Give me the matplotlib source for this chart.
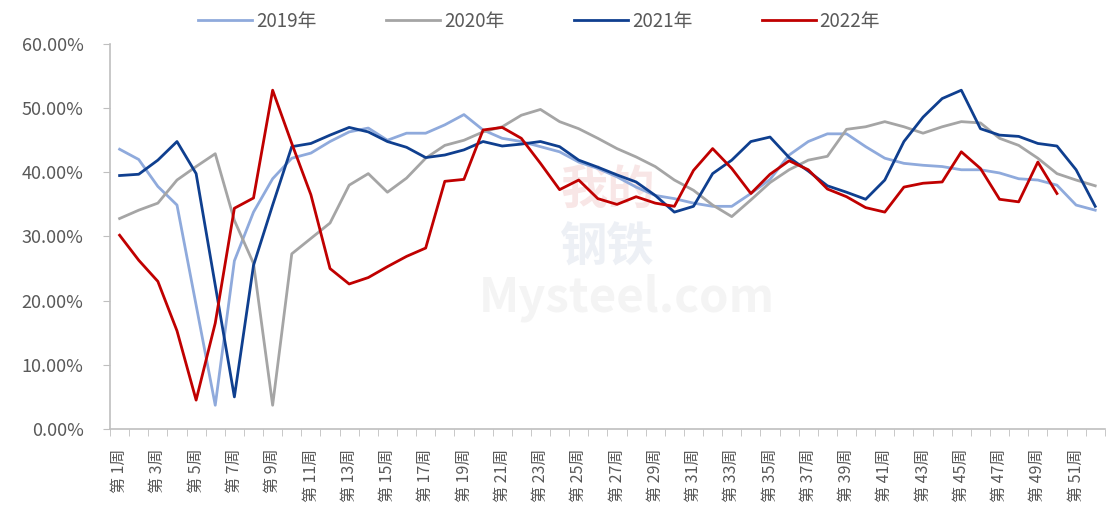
import matplotlib
matplotlib.use("Agg")
from matplotlib import pyplot as plt
from matplotlib.ticker import FuncFormatter, FixedLocator
import numpy as np

plt.rcParams['font.family'] = ['Noto Sans CJK SC', 'DejaVu Sans']

# weeks 1..52
weeks = list(range(1, 53))
tick_labels = ["第 %d周" % w for w in weeks[::2]]

y2019 = [43.6, 42.0, 37.8, 34.9, 19.3, 3.7, 26.2, 33.8, 39.0, 42.2,
         43.0, 44.8, 46.3, 46.9, 45.0, 46.1, 46.1, 47.4, 49.0, 46.6,
         45.3, 44.8, 44.0, 43.2, 41.6, 40.6, 39.3, 37.7, 36.4, 35.9,
         35.2, 34.7, 34.7, 36.7, 38.9, 42.7, 44.8, 46.0, 46.0, 44.0,
         42.2, 41.4, 41.1, 40.9, 40.4, 40.4, 39.9, 39.0, 38.8, 38.0,
         34.9, 34.1]
y2020 = [32.8, 34.1, 35.2, 38.8, 40.9, 42.9, 32.5, 25.8, 3.7, 27.3,
         29.7, 32.1, 38.0, 39.8, 36.9, 39.1, 42.2, 44.2, 45.0, 46.3,
         47.1, 48.9, 49.8, 47.9, 46.8, 45.3, 43.7, 42.4, 40.9, 38.8,
         37.2, 34.9, 33.1, 35.7, 38.4, 40.4, 41.9, 42.5, 46.7, 47.1,
         47.9, 47.1, 46.1, 47.1, 47.9, 47.7, 45.3, 44.2, 42.2, 39.8,
         38.8, 37.9]
y2021 = [39.5, 39.7, 41.9, 44.8, 39.8, 22.4, 5.0, 25.5, 34.9, 44.0,
         44.5, 45.8, 47.0, 46.3, 44.8, 43.9, 42.3, 42.7, 43.5, 44.8,
         44.1, 44.4, 44.8, 44.0, 41.9, 40.8, 39.6, 38.5, 36.4, 33.8,
         34.7, 39.8, 41.9, 44.8, 45.5, 42.3, 40.2, 37.9, 36.9, 35.8,
         38.8, 44.8, 48.6, 51.5, 52.8, 46.8, 45.8, 45.6, 44.5, 44.1,
         40.4, 34.7]
y2022 = [30.2, 26.3, 23.0, 15.3, 4.5, 16.5, 34.4, 36.0, 52.8, 44.5,
         36.5, 25.0, 22.6, 23.6, 25.3, 26.9, 28.2, 38.6, 38.9, 46.6,
         47.0, 45.3, 41.4, 37.3, 38.8, 35.9, 35.0, 36.2, 35.2, 34.7,
         40.3, 43.7, 40.6, 36.7, 39.7, 41.8, 40.4, 37.4, 36.2, 34.5,
         33.8, 37.7, 38.3, 38.5, 43.2, 40.6, 35.8, 35.4, 41.6, 36.7]

series = [
    ("2019年", y2019, "#8FAADC"),
    ("2020年", y2020, "#A5A5A5"),
    ("2021年", y2021, "#0F3F8F"),
    ("2022年", y2022, "#C00000"),
]

fig = plt.figure(figsize=(11.07, 5.27), dpi=100)
ax = fig.add_axes([0.0994, 0.186, 0.8986, 0.7305])

# faint watermark
ax.text(0.5, 0.62, "我的", transform=ax.transAxes, ha="center", va="center",
        fontsize=34, color="#F8E6E6", fontweight="bold", zorder=0)
ax.text(0.5, 0.47, "钢铁", transform=ax.transAxes, ha="center", va="center",
        fontsize=34, color="#EDF0F5", fontweight="bold", zorder=0)
ax.text(0.52, 0.34, "Mysteel.com", transform=ax.transAxes, ha="center", va="center",
        fontsize=34, color="#F4F4F4", fontweight="bold", zorder=0)

for name, vals, col in series:
    x = np.arange(len(vals))
    ax.plot(x, vals, color=col, lw=2.0, label=name, zorder=3)

ax.set_xlim(-0.5, 51.5)
ax.set_ylim(0, 60)
ax.set_yticks(np.arange(0, 61, 10))
ax.yaxis.set_major_formatter(FuncFormatter(lambda v, p: "%.2f%%" % v))

ax.xaxis.set_major_locator(FixedLocator(np.arange(0, 52, 2)))
ax.set_xticklabels(tick_labels, rotation=90)
ax.xaxis.set_minor_locator(FixedLocator(np.arange(-0.5, 52, 1)))
ax.tick_params(axis="x", which="major", length=0, pad=14, labelsize=11.5, labelcolor="#595959")
ax.tick_params(axis="x", which="minor", length=5, color="#BFBFBF", direction="out")
ax.tick_params(axis="y", length=5, color="#BFBFBF", labelsize=13, labelcolor="#595959", pad=14)

for s in ["top", "right"]:
    ax.spines[s].set_visible(False)
for s in ["left", "bottom"]:
    ax.spines[s].set_color("#BFBFBF")
    ax.spines[s].set_linewidth(1.2)

fig.legend(loc="upper center", bbox_to_anchor=(0.487, 1.012), ncol=4, frameon=False,
           fontsize=13.5, handlelength=2.9, handletextpad=0.2, columnspacing=3.7,
           labelcolor="#595959")

fig.savefig("out.png", dpi=100)
